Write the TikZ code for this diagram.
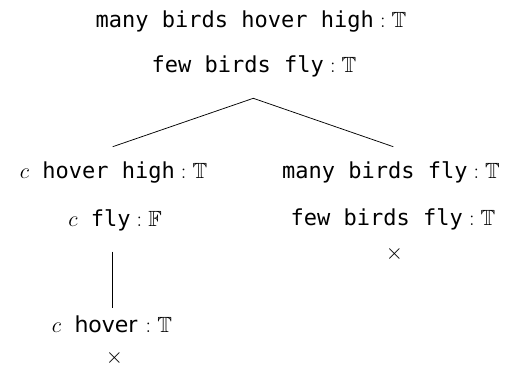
\documentclass[tikz,border=0pt]{standalone}
\usepackage{amssymb}
\usepackage{fontspec}
\newfontfamily\monof{DejaVu Sans Mono}
\newfontfamily\propf{DejaVu Sans}
\newcommand{\isval}[1]{${}:{}\mathbb{#1}$}
\begin{document}
\begin{tikzpicture}[x=0.9427pt,y=-0.9427pt,
  lbl/.style={inner sep=0pt,outer sep=0pt,anchor=base,font=\fontsize{20.74}{25}\selectfont},
  cross/.style={inner sep=0pt,outer sep=0pt,anchor=center,font=\fontsize{20.74}{25}\selectfont},
  edge/.style={line width=0.7pt,black}]
\useasboundingbox (0,0) rectangle (511,370);
\node[lbl] (t1) at (251,27.3) {{\monof many birds hover high}\isval{T}};
\node[lbl] (t2) at (254,72.7) {{\monof few birds fly}\isval{T}};
\node[lbl] (l1) at (113.5,178) {$c${\monof\ hover high}\isval{T}};
\node[lbl] (l2) at (115,226.7) {$c${\monof\ fly}\isval{F}};
\node[lbl] (l3) at (112,332.7) {$c${\monof\ }{\propf hover\hspace{2pt}}\isval{T}};
\node[cross] (xl) at (114.5,357.5) {$\times$};
\node[lbl] (r1) at (391,178) {{\monof many birds fly}\isval{T}};
\node[lbl] (r2) at (393,225) {{\monof few birds fly}\isval{T}};
\node[cross] (xr) at (394.5,254) {$\times$};
\coordinate (apex) at (253.3,98.3);
\coordinate (lend) at (112.7,146.7);
\coordinate (rend) at (393.3,146.7);
\coordinate (vtop) at (112.7,251.7);
\coordinate (vbot) at (112.7,308.3);
\draw[edge] (lend) -- (apex) -- (rend);
\draw[edge] (vtop) -- (vbot);
\end{tikzpicture}
\end{document}
